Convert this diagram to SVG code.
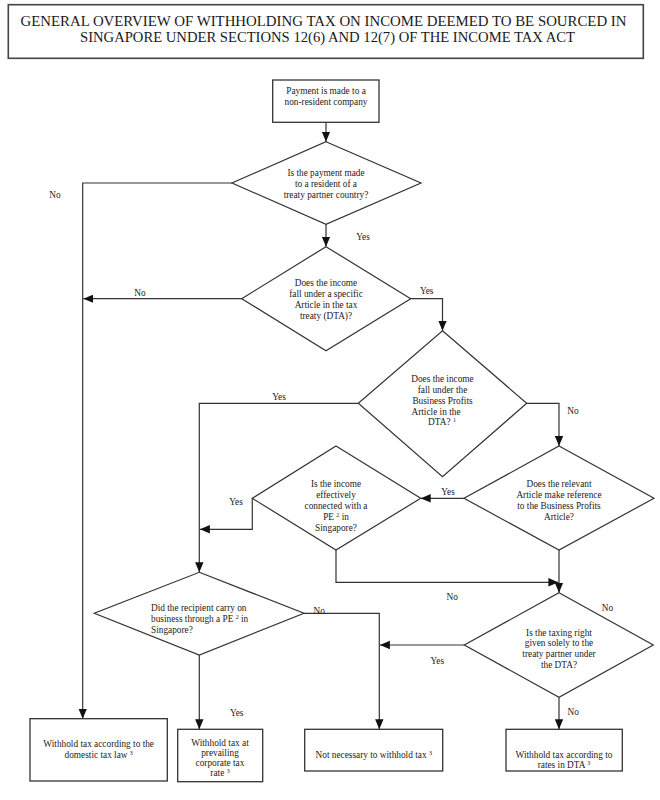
<svg xmlns="http://www.w3.org/2000/svg" width="660" height="800" viewBox="0 0 660 800">
<defs>
<marker id="ah" markerUnits="userSpaceOnUse" markerWidth="10" markerHeight="10" viewBox="0 0 10 10" refX="10" refY="5" orient="auto">
<path d="M0,0.8 L10,5 L0,9.2 Z" fill="#111"/>
</marker>
<style>
text{font-family:"Liberation Serif","Times New Roman",serif;fill:#222;font-size:9.3px}
.t{text-anchor:middle}
.title{font-size:14.5px;text-anchor:middle;fill:#1a1a1a}
.box{fill:#fff;stroke:#333;stroke-width:1.3}
.tbox{fill:#fff;stroke:#444;stroke-width:1.6}
.dia{fill:#fff;stroke:#333;stroke-width:1.2}
.c{fill:none;stroke:#333;stroke-width:1.2;marker-end:url(#ah)}
.sup{font-size:6px}
</style>
</defs>
<rect width="660" height="800" fill="#fff"/>

<g id="title">
<rect class="tbox" x="8.3" y="4.7" width="635" height="53.6"/>
<text class="title" x="323.5" y="25.5" textLength="606" lengthAdjust="spacingAndGlyphs">GENERAL OVERVIEW OF WITHHOLDING TAX ON INCOME DEEMED TO BE SOURCED IN</text>
<text class="title" x="327.5" y="42" textLength="495" lengthAdjust="spacingAndGlyphs">SINGAPORE UNDER SECTIONS 12(6) AND 12(7) OF THE INCOME TAX ACT</text>
</g>

<g id="connectors">
<path class="c" d="M326,122.3 V141.7"/>
<path class="c" d="M232,183 H82.7 V718.7"/>
<path class="c" d="M326,224.3 V246.7"/>
<path class="c" d="M241.7,298.7 H83.3"/>
<path class="c" d="M410.7,298.7 H442.5 V330.7"/>
<path class="c" d="M358.3,403.3 H199.3 V572.3"/>
<path class="c" d="M526.7,403.3 H559 V446"/>
<path class="c" d="M464,498.3 H420.7"/>
<path class="c" d="M252.3,498.3 V529.3 H199.9"/>
<path class="c" d="M336,550 V582.3 H558.4"/>
<path class="c" d="M559,550 V592.7"/>
<path class="c" d="M304,613.3 H379.3 V729.3"/>
<path class="c" d="M464.3,645 H379.9"/>
<path class="c" d="M199.3,655 V729.3"/>
<path class="c" d="M559,697.3 V729.3"/>
</g>

<g id="labels">
<text class="t" x="55" y="198">No</text>
<text class="t" x="363" y="240">Yes</text>
<text class="t" x="140" y="296">No</text>
<text class="t" x="426.7" y="294">Yes</text>
<text class="t" x="279" y="400">Yes</text>
<text class="t" x="573" y="414">No</text>
<text class="t" x="448" y="495">Yes</text>
<text class="t" x="236" y="505">Yes</text>
<text class="t" x="452.3" y="600">No</text>
<text class="t" x="607.5" y="611">No</text>
<text class="t" x="319.3" y="614">No</text>
<text class="t" x="437.3" y="664">Yes</text>
<text class="t" x="573.3" y="715">No</text>
<text class="t" x="236.7" y="716">Yes</text>
</g>

<g id="start">
<rect class="box" x="272.7" y="80" width="106.3" height="42.3"/>
<text class="t" x="326" y="94">Payment is made to a</text>
<text class="t" x="326" y="105">non-resident company</text>
</g>

<g id="q-treaty-resident">
<polygon class="dia" points="326,141.7 421,183 326,224.3 232,183"/>
<text class="t" x="326" y="175.5">Is the payment made</text>
<text class="t" x="326" y="186.5">to a resident of a</text>
<text class="t" x="326" y="197.5">treaty partner country?</text>
</g>

<g id="q-specific-article">
<polygon class="dia" points="326,246.7 410.7,298.7 326,350.7 241.7,298.7"/>
<text class="t" x="326" y="285.5">Does the income</text>
<text class="t" x="326" y="296.5">fall under a specific</text>
<text class="t" x="326" y="307.5">Article in the tax</text>
<text class="t" x="326" y="318.5">treaty (DTA)?</text>
</g>

<g id="q-business-profits">
<polygon class="dia" points="442.5,330.7 526.7,403.3 442.5,476.7 358.3,403.3"/>
<text class="t" x="442.5" y="382">Does the income</text>
<text class="t" x="442.5" y="393">fall under the</text>
<text class="t" x="442.5" y="404">Business Profits</text>
<text class="t" x="436" y="414.5">Article in the</text>
<text class="t" x="442" y="425">DTA? <tspan class="sup" dy="-3">1</tspan></text>
</g>

<g id="q-reference-bp">
<polygon class="dia" points="559,446 654,498.3 559,550 464,498.3"/>
<text class="t" x="559" y="487">Does the relevant</text>
<text class="t" x="559" y="498">Article make reference</text>
<text class="t" x="559" y="509">to the Business Profits</text>
<text class="t" x="559" y="520">Article?</text>
</g>

<g id="q-effectively-connected">
<polygon class="dia" points="336,446 420.7,498.3 336,550 252.3,498.3"/>
<text class="t" x="336" y="487">Is the income</text>
<text class="t" x="336" y="498">effectively</text>
<text class="t" x="336" y="509">connected with a</text>
<text class="t" x="336" y="520">PE <tspan class="sup" dy="-3">2</tspan><tspan dy="3"> in</tspan></text>
<text class="t" x="336" y="531">Singapore?</text>
</g>

<g id="q-carry-on-business">
<polygon class="dia" points="199.3,572.3 304,613.3 199.3,655 94.3,613.3"/>
<text x="151" y="611">Did the recipient carry on</text>
<text x="151" y="622">business through a PE <tspan class="sup" dy="-3">2</tspan><tspan dy="3"> in</tspan></text>
<text x="151" y="633">Singapore?</text>
</g>

<g id="q-taxing-right">
<polygon class="dia" points="559,592.7 653.3,645 559,697.3 464.3,645"/>
<text class="t" x="559" y="635.5">Is the taxing right</text>
<text class="t" x="559" y="646">given solely to the</text>
<text class="t" x="559" y="657">treaty partner under</text>
<text class="t" x="559" y="667.5">the DTA?</text>
</g>

<g id="r-domestic">
<rect class="box" x="30" y="718.7" width="137.3" height="62.3"/>
<text class="t" x="98.7" y="746.5">Withhold tax according to the</text>
<text class="t" x="98.7" y="757.5">domestic tax law <tspan class="sup" dy="-3">3</tspan></text>
</g>

<g id="r-corporate-rate">
<rect class="box" x="177.7" y="729.3" width="85" height="52.4"/>
<text class="t" x="220" y="745.5">Withhold tax at</text>
<text class="t" x="220" y="755.5">prevailing</text>
<text class="t" x="220" y="765.5">corporate tax</text>
<text class="t" x="220" y="775.5">rate <tspan class="sup" dy="-3">3</tspan></text>
</g>

<g id="r-not-necessary">
<rect class="box" x="304.7" y="729.3" width="138" height="41.7"/>
<text class="t" x="373.7" y="758">Not necessary to withhold tax <tspan class="sup" dy="-3">3</tspan></text>
</g>

<g id="r-dta-rates">
<rect class="box" x="506" y="729.3" width="116.3" height="41.7"/>
<text class="t" x="564" y="757.5">Withhold tax according to</text>
<text class="t" x="564" y="768">rates in DTA <tspan class="sup" dy="-3">3</tspan></text>
</g>
</svg>
